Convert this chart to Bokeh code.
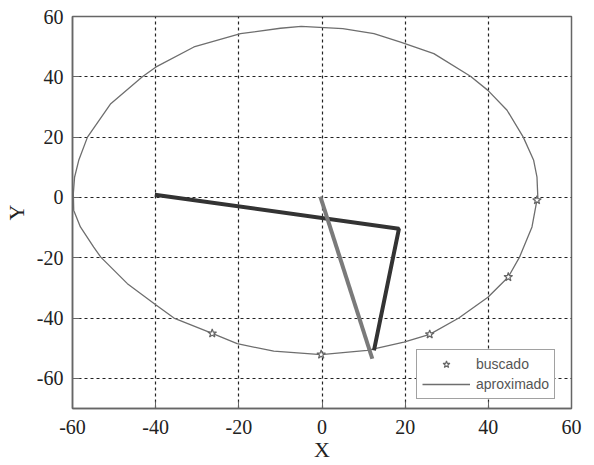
from bokeh.plotting import figure
from bokeh.models import Range1d, FixedTicker, Legend, LegendItem
from bokeh.embed import file_html
from bokeh.resources import INLINE

# Approximated trajectory ("aproximado")
curve_x = [-59.8, -59.5, -58.5, -56.4, -50.8, -43.2, -40.0, -30.8, -19.6, -10.0, -5.0, 5.0, 12.5,
           18.9, 26.9, 35.7, 39.9, 44.5, 48.4, 50.9, 51.7, 51.9, 51.7, 50.5, 47.5, 44.8, 39.9,
           32.9, 25.9, 19.7, 10.9, -0.2, -11.6, -20.4, -26.4, -35.6, -40.0, -46.8, -53.2, -54.9,
           -58.1, -59.7, -59.8]
curve_y = [1.3, 6.7, 12.3, 20.0, 31.1, 40.0, 43.2, 49.9, 54.3, 56.1, 56.7, 56.0, 54.3,
           51.5, 47.7, 40.2, 35.5, 28.9, 20.0, 12.3, 6.7, 0.1, -0.8, -9.8, -19.8, -26.4, -33.1,
           -40.0, -45.4, -48.0, -50.7, -52.1, -51.0, -48.5, -45.1, -40.0, -35.6, -28.6, -19.8, -16.5,
           -9.8, -4.3, 1.3]

# Target points ("buscado")
star_x = [-26.4, -0.2, 25.9, 44.8, 51.7]
star_y = [-45.1, -52.1, -45.4, -26.4, -0.9]

# Mechanism links
dark_x = [-40.2, 18.5, 12.5]
dark_y = [0.9, -10.4, -50.7]
gray_x = [-0.4, 12.1]
gray_y = [0.3, -53.5]

ticks = [-60, -40, -20, 0, 20, 40, 60]
tick_labels = {t: str(t) for t in ticks}

p = figure(width=594, height=465, output_backend="svg", toolbar_location=None,
           x_range=Range1d(-60, 60), y_range=Range1d(-70, 60),
           min_border_left=72, min_border_right=23, min_border_top=16, min_border_bottom=57,
           background_fill_color="white", border_fill_color="white")

p.outline_line_color = "#666666"
p.outline_line_width = 1.5

for ax, lab in ((p.xaxis[0], "X"), (p.yaxis[0], "Y")):
    ax.ticker = FixedTicker(ticks=ticks)
    ax.major_label_overrides = tick_labels
    ax.axis_label = lab
    ax.axis_label_text_font = "Liberation Serif"
    ax.axis_label_text_font_size = "22px"
    ax.axis_label_text_font_style = "normal"
    ax.axis_label_text_color = "#222222"
    ax.major_label_text_font = "Liberation Serif"
    ax.major_label_text_font_size = "20px"
    ax.major_label_text_color = "#222222"
    ax.axis_line_color = "#666666"
    ax.axis_line_width = 1.5
    ax.major_tick_in = 7
    ax.major_tick_out = 0
    ax.major_tick_line_color = "#666666"
    ax.minor_tick_line_color = None
p.xaxis[0].axis_label_standoff = 0
p.xaxis[0].major_label_standoff = 11
p.yaxis[0].axis_label_standoff = 5
p.yaxis[0].major_label_standoff = 9
p.yaxis[0].major_label_orientation = "horizontal"

p.xgrid.ticker = FixedTicker(ticks=ticks)
p.ygrid.ticker = FixedTicker(ticks=ticks)
for g in (p.xgrid, p.ygrid):
    g.grid_line_color = "#222222"
    g.grid_line_width = 1.2
    g.grid_line_dash = "3 3"

curve = p.line(curve_x, curve_y, line_color="#6e6e6e", line_width=1.3)
p.line(dark_x, dark_y, line_color="#333333", line_width=4)
p.line(gray_x, gray_y, line_color="#7a7a7a", line_width=4)
stars = p.scatter(star_x, star_y, marker="star", size=9, line_color="#666666",
                  fill_color="white", line_width=1.2)

legend = Legend(items=[LegendItem(label="buscado", renderers=[stars]),
                       LegendItem(label="aproximado", renderers=[curve])],
                location=(344, 9), orientation="vertical")
legend.label_text_font = "Liberation Sans"
legend.label_text_font_size = "14px"
legend.label_text_color = "#555555"
legend.glyph_width = 48
legend.glyph_height = 18
legend.label_height = 18
legend.label_standoff = 6
legend.padding = 5
legend.spacing = 2
legend.margin = 0
legend.border_line_color = "#444444"
legend.border_line_width = 1.2
legend.background_fill_alpha = 1
p.add_layout(legend, "center")

open("out.html", "w").write(file_html(p, INLINE))
